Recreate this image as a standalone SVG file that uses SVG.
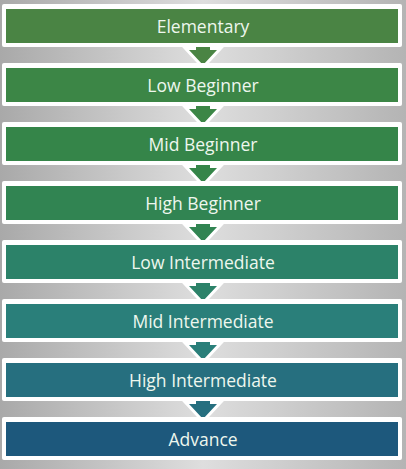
<svg xmlns="http://www.w3.org/2000/svg" width="406" height="469" viewBox="0 0 406 469">
<defs>
<linearGradient id="bg" x1="0" y1="0" x2="1" y2="0">
<stop offset="0" stop-color="#a9a9a9"/>
<stop offset="0.5" stop-color="#dedede"/>
<stop offset="1" stop-color="#b4b4b4"/>
</linearGradient>
</defs>
<style>
.frame{fill:#ffffff;}
.lbl{font-family:"Open Sans","Noto Sans",sans-serif;font-size:17.5px;fill:#eef7ee;text-anchor:middle;dominant-baseline:central;}
.arr{stroke:#ffffff;stroke-width:6;stroke-linejoin:miter;paint-order:stroke;}
</style>
<rect x="0" y="0" width="406" height="469" fill="url(#bg)"/>
<g id="connectors">
<path class="arr" fill="#4a8444" d="M196,36 L196,50 L189,50 L203,65 L217,50 L210,50 L210,36 Z"/>
<path class="arr" fill="#3c8646" d="M196,95 L196,109 L189,109 L203,124 L217,109 L210,109 L210,95 Z"/>
<path class="arr" fill="#358549" d="M196,154 L196,168 L189,168 L203,183 L217,168 L210,168 L210,154 Z"/>
<path class="arr" fill="#318452" d="M196,213 L196,227 L189,227 L203,242 L217,227 L210,227 L210,213 Z"/>
<path class="arr" fill="#2c8269" d="M196,272 L196,286 L189,286 L203,301 L217,286 L210,286 L210,272 Z"/>
<path class="arr" fill="#2a7f7a" d="M196,331 L196,345 L189,345 L203,360 L217,345 L210,345 L210,331 Z"/>
<path class="arr" fill="#266f7f" d="M196,390 L196,404 L189,404 L203,419 L217,404 L210,404 L210,390 Z"/>
</g>
<g id="n1"><rect class="frame" x="2" y="4" width="400" height="43" rx="2"/><rect x="6" y="9" width="392" height="34" fill="#4a8444"/><text class="lbl" x="203" y="26">Elementary</text></g>
<g id="n2"><rect class="frame" x="2" y="63" width="400" height="43" rx="2"/><rect x="6" y="68" width="392" height="34" fill="#3c8646"/><text class="lbl" x="203" y="85">Low Beginner</text></g>
<g id="n3"><rect class="frame" x="2" y="122" width="400" height="43" rx="2"/><rect x="6" y="127" width="392" height="34" fill="#358549"/><text class="lbl" x="203" y="144">Mid Beginner</text></g>
<g id="n4"><rect class="frame" x="2" y="181" width="400" height="43" rx="2"/><rect x="6" y="186" width="392" height="34" fill="#318452"/><text class="lbl" x="203" y="203">High Beginner</text></g>
<g id="n5"><rect class="frame" x="2" y="240" width="400" height="43" rx="2"/><rect x="6" y="245" width="392" height="34" fill="#2c8269"/><text class="lbl" x="203" y="262">Low Intermediate</text></g>
<g id="n6"><rect class="frame" x="2" y="299" width="400" height="43" rx="2"/><rect x="6" y="304" width="392" height="34" fill="#2a7f7a"/><text class="lbl" x="203" y="321">Mid Intermediate</text></g>
<g id="n7"><rect class="frame" x="2" y="358" width="400" height="43" rx="2"/><rect x="6" y="363" width="392" height="34" fill="#266f7f"/><text class="lbl" x="203" y="380">High Intermediate</text></g>
<g id="n8"><rect class="frame" x="2" y="417" width="400" height="43" rx="2"/><rect x="6" y="422" width="392" height="34" fill="#1d587c"/><text class="lbl" x="203" y="439">Advance</text></g>
</svg>
